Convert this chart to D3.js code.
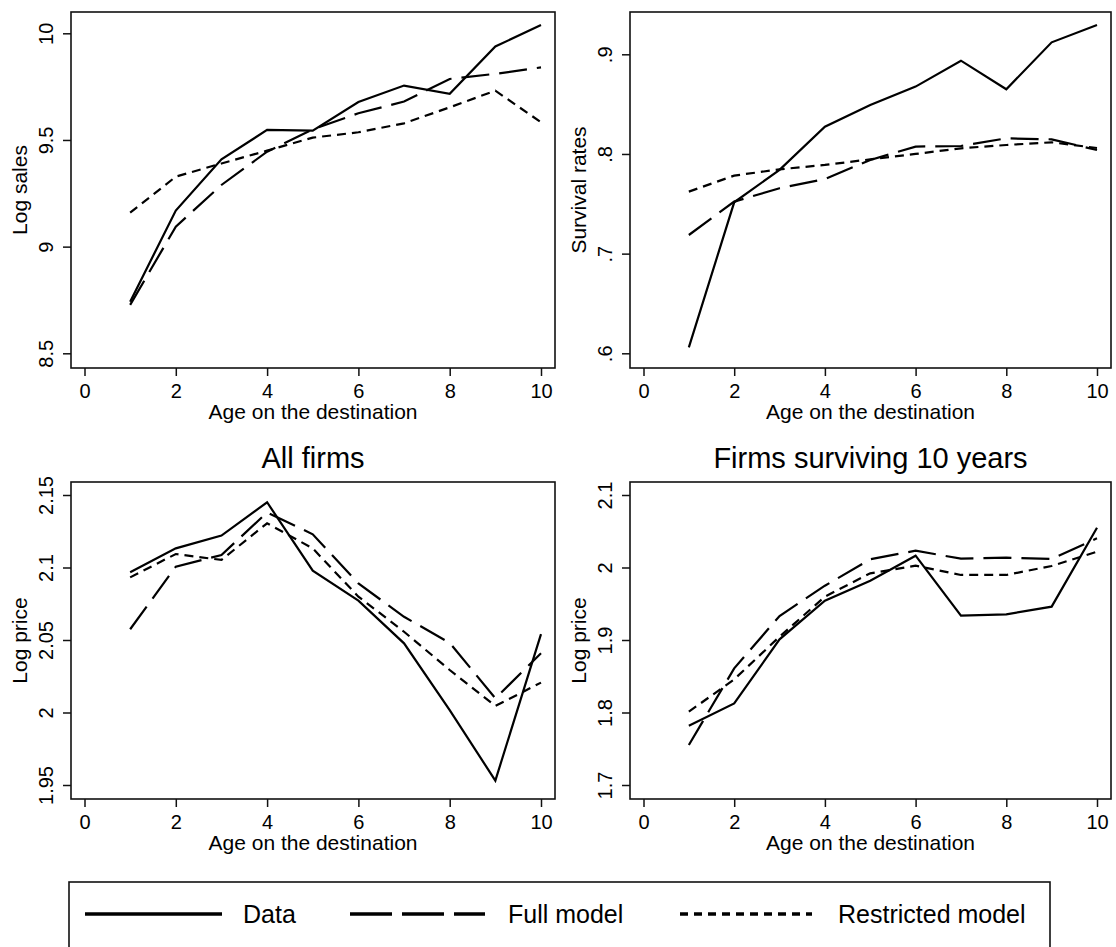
<!DOCTYPE html>
<html>
<head>
<meta charset="utf-8">
<script src="https://cdn.jsdelivr.net/npm/d3@7"></script>
<style>
  body { margin: 0; background: #fff; }
  svg text { font-family: "Liberation Sans", Arial, sans-serif; fill: #000; }
</style>
</head>
<body>
<div id="chart"></div>
<script>
var w = 1116;
var h = 947;

// age on the destination
var ages = [1, 2, 3, 4, 5, 6, 7, 8, 9, 10];
var xTicks = [0, 2, 4, 6, 8, 10];

// log sales
var salesData = [8.742, 9.169, 9.409, 9.547, 9.544, 9.678, 9.755, 9.716, 9.938, 10.039];
var salesFull = [8.727, 9.094, 9.289, 9.445, 9.55, 9.625, 9.68, 9.786, 9.81, 9.84];
var salesRestricted = [9.159, 9.328, 9.39, 9.45, 9.511, 9.536, 9.578, 9.653, 9.731, 9.583];
var salesTicks = [8.5, 9, 9.5, 10];
var salesLabels = ["8.5", "9", "9.5", "10"];

// survival rates
var survData = [0.606, 0.7515, 0.784, 0.8274, 0.8492, 0.8676, 0.8936, 0.8649, 0.912, 0.9294];
var survFull = [0.7187, 0.7522, 0.7656, 0.7749, 0.794, 0.8074, 0.808, 0.8157, 0.8147, 0.804];
var survRestricted = [0.7622, 0.7783, 0.7846, 0.789, 0.7946, 0.8, 0.8057, 0.809, 0.8117, 0.806];
var survTicks = [0.6, 0.7, 0.8, 0.9];
var survLabels = [".6", ".7", ".8", ".9"];

// log price, all firms
var priceAllData = [2.0967, 2.1132, 2.122, 2.145, 2.0978, 2.0771, 2.0477, 2.0017, 1.953, 2.0541];
var priceAllFull = [2.0574, 2.1006, 2.1086, 2.138, 2.1229, 2.089, 2.066, 2.048, 2.0098, 2.0408];
var priceAllRestricted = [2.0932, 2.1093, 2.1052, 2.1305, 2.1132, 2.0799, 2.0557, 2.0293, 2.0045, 2.0206];
var priceAllTicks = [1.95, 2, 2.05, 2.1, 2.15];
var priceAllLabels = ["1.95", "2", "2.05", "2.1", "2.15"];

// log price, firms surviving 10 years
var priceSurvData = [1.7818, 1.8126, 1.9009, 1.9543, 1.9818, 2.0163, 1.9336, 1.9354, 1.946, 2.0549];
var priceSurvFull = [1.7552, 1.8609, 1.9331, 1.9749, 2.0113, 2.0232, 2.0122, 2.0136, 2.0117, 2.0402];
var priceSurvRestricted = [1.8011, 1.8457, 1.9046, 1.9598, 1.992, 2.0025, 1.9897, 1.9897, 2.0021, 2.0218];
var priceSurvTicks = [1.7, 1.8, 1.9, 2, 2.1];
var priceSurvLabels = ["1.7", "1.8", "1.9", "2", "2.1"];

var seriesNames = ["Data", "Full model", "Restricted model"];
var dashes = [null, "28,10", "9,6"];
var legendDashes = [null, "42,10", "8,6"];

var panels = [
  { x0: 71, x1: 555, y0: 12, y1: 368, title: null, ytitle: "Log sales",
    ticks: salesTicks, labels: salesLabels, yr: [353.3, 33.3],
    series: [salesData, salesFull, salesRestricted] },
  { x0: 630, x1: 1111, y0: 12, y1: 368, title: null, ytitle: "Survival rates",
    ticks: survTicks, labels: survLabels, yr: [353.3, 54.3],
    series: [survData, survFull, survRestricted] },
  { x0: 71, x1: 555, y0: 482, y1: 799, title: "All firms", ytitle: "Log price",
    ticks: priceAllTicks, labels: priceAllLabels, yr: [785, 495],
    series: [priceAllData, priceAllFull, priceAllRestricted] },
  { x0: 630, x1: 1111, y0: 482, y1: 799, title: "Firms surviving 10 years", ytitle: "Log price",
    ticks: priceSurvTicks, labels: priceSurvLabels, yr: [785, 495],
    series: [priceSurvData, priceSurvFull, priceSurvRestricted] }
];

var svg = d3.select("#chart")
  .append("svg")
  .attr("width", w)
  .attr("height", h);

panels.forEach(function(p) {
  var x = d3.scaleLinear()
    .domain([0, 10])
    .range([p.x0 + 13.5, p.x1 - 14]);

  var y = d3.scaleLinear()
    .domain([p.ticks[0], p.ticks[p.ticks.length - 1]])
    .range(p.yr);

  var line = d3.line()
    .x(function(d, i) { return x(ages[i]); })
    .y(function(d) { return y(d); });

  p.series.forEach(function(s, k) {
    svg.append("path")
      .datum(s)
      .attr("d", line)
      .attr("fill", "none")
      .attr("stroke", "#000")
      .attr("stroke-width", 2.2)
      .attr("stroke-dasharray", dashes[k]);
  });

  // plot frame
  svg.append("rect")
    .attr("x", p.x0)
    .attr("y", p.y0)
    .attr("width", p.x1 - p.x0)
    .attr("height", p.y1 - p.y0)
    .attr("fill", "none")
    .attr("stroke", "#111")
    .attr("stroke-width", 1.6);

  var xAxis = svg.append("g")
    .attr("transform", "translate(0," + p.y1 + ")")
    .call(d3.axisBottom(x).tickValues(xTicks).tickSize(8).tickFormat(d3.format("d")));
  xAxis.select(".domain").remove();
  xAxis.selectAll("line").attr("stroke", "#111").attr("stroke-width", 1.5);
  xAxis.selectAll("text")
    .attr("y", 29.5)
    .attr("dy", 0)
    .style("font-size", "20px");

  var yAxis = svg.append("g")
    .attr("transform", "translate(" + p.x0 + ",0)")
    .call(d3.axisLeft(y).tickValues(p.ticks).tickSize(8)
      .tickFormat(function(d, i) { return p.labels[i]; }));
  yAxis.select(".domain").remove();
  yAxis.selectAll("line").attr("stroke", "#111").attr("stroke-width", 1.5);
  yAxis.selectAll("text")
    .attr("x", null)
    .attr("dy", null)
    .attr("text-anchor", "middle")
    .attr("transform", "translate(-18,0) rotate(-90)")
    .style("font-size", "20px");

  svg.append("text")
    .attr("transform", "translate(" + (p.x0 - 44) + "," + ((p.y0 + p.y1) / 2) + ") rotate(-90)")
    .attr("text-anchor", "middle")
    .style("font-size", "21px")
    .text(p.ytitle);

  svg.append("text")
    .attr("x", (p.x0 + p.x1) / 2)
    .attr("y", p.y1 + 51)
    .attr("text-anchor", "middle")
    .style("font-size", "21px")
    .text("Age on the destination");

  if (p.title) {
    svg.append("text")
      .attr("x", (p.x0 + p.x1) / 2)
      .attr("y", p.y0 - 14)
      .attr("text-anchor", "middle")
      .style("font-size", "29px")
      .text(p.title);
  }
});

// legend
svg.append("rect")
  .attr("x", 69)
  .attr("y", 882)
  .attr("width", 981)
  .attr("height", 90)
  .attr("fill", "none")
  .attr("stroke", "#111")
  .attr("stroke-width", 1.6);

var keyStart = [85, 350, 680];
var keyEnd = [222, 485, 812];
var textStart = [243, 508, 838];

seriesNames.forEach(function(name, k) {
  svg.append("line")
    .attr("x1", keyStart[k])
    .attr("x2", keyEnd[k])
    .attr("y1", 914)
    .attr("y2", 914)
    .attr("stroke", "#000")
    .attr("stroke-width", 3.5)
    .attr("stroke-dasharray", legendDashes[k]);
  svg.append("text")
    .attr("x", textStart[k])
    .attr("y", 923)
    .style("font-size", "25px")
    .text(name);
});
</script>
</body>
</html>
